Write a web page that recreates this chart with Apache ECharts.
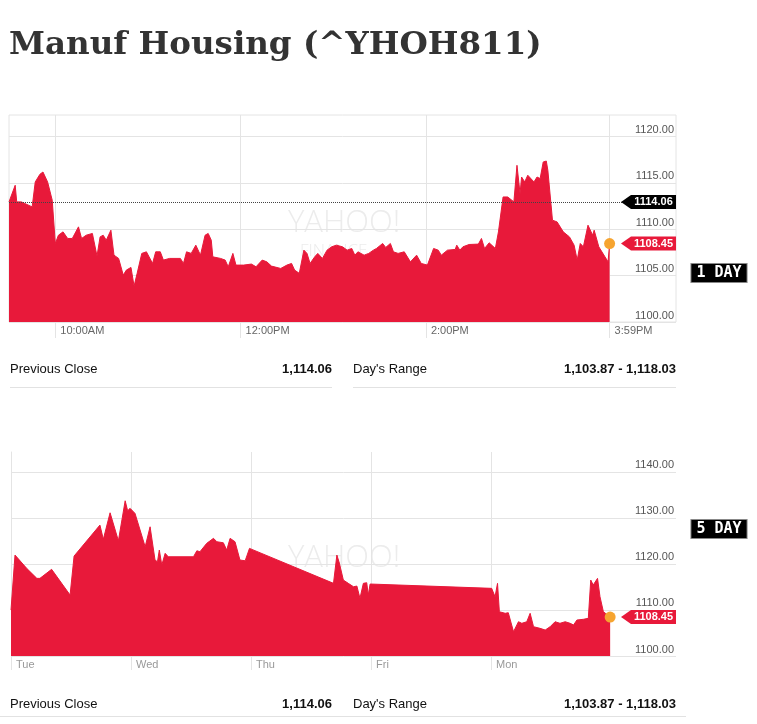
<!DOCTYPE html>
<html><head><meta charset="utf-8">
<script src="https://cdn.jsdelivr.net/npm/echarts@6/dist/echarts.min.js"></script>
<style>html,body{margin:0;padding:0;background:#fff}#c{width:757px;height:724px}</style>
</head><body><div id="c"></div>
<script>
const titleText = 'Manuf Housing (^YHOH811)';

// 1-day chart: minutes after 9:30 open, index level
const times1D = [0,4,5,8,15,17,20,22,25,28,30,32,35,38,41,45,47,50,54,57,59,61,63,66,68,71,74,76,79,81,83,86,89,93,95,98,100,104,111,113,115,118,121,123,124,127,129,131,132,137,140,142,145,147,152,157,160,164,167,170,176,180,183,185,188,191,193,195,198,200,203,206,209,212,216,219,222,224,226,230,233,236,238,242,244,247,249,252,256,260,264,267,271,275,278,280,284,289,290,292,294,298,304,306,308,311,315,317,320,323,327,329,331,332,334,336,340,342,344,346,348,349,352,355,359,363,366,368,370,372,375,378,379,382,386,388,389];
const close1D = [1112.94,1114.73,1112.94,1112.94,1112.40,1115.09,1115.91,1116.16,1115.09,1113.12,1108.46,1109.35,1109.71,1109.00,1109.00,1110.25,1109.00,1109.35,1109.54,1107.10,1109.17,1109.35,1108.82,1109.89,1107.20,1106.85,1105.05,1105.59,1105.88,1103.87,1105.24,1107.39,1107.56,1106.31,1107.56,1107.56,1106.67,1106.85,1106.85,1106.31,1107.56,1107.39,1108.28,1107.56,1107.20,1109.35,1109.54,1108.82,1107.02,1106.85,1106.67,1105.95,1107.39,1106.13,1106.13,1106.24,1105.95,1106.67,1106.48,1106.02,1105.77,1106.13,1106.31,1105.59,1105.24,1107.74,1107.39,1106.31,1107.02,1107.39,1106.85,1107.74,1108.10,1108.28,1108.10,1107.74,1107.92,1107.20,1107.56,1107.20,1107.39,1107.74,1107.92,1108.46,1108.03,1108.46,1107.56,1107.39,1107.56,1106.48,1107.20,1106.31,1106.13,1107.92,1107.74,1107.20,1107.74,1107.82,1108.28,1107.74,1108.10,1108.35,1108.39,1109.00,1107.92,1108.53,1107.92,1109.71,1113.47,1113.47,1112.94,1116.88,1113.84,1115.62,1115.09,1115.81,1115.09,1115.62,1115.45,1117.24,1117.34,1116.34,1110.97,1110.78,1109.71,1109.17,1108.28,1106.67,1108.46,1108.10,1110.43,1109.35,1109.89,1108.10,1107.02,1106.48,1108.45];
const ticks1D = [30,150,270,389];
const tickLabels1D = ['10:00AM','12:00PM','2:00PM','3:59PM'];
const yTicks1D = [1100,1105,1110,1115,1120];

// 5-day chart: trading minutes after Tuesday open, index level
const times5D = [0,13,51,84,94,132,192,205,289,300,322,349,371,379,387,403,436,452,468,476,482,490,501,511,593,604,614,636,658,669,690,701,712,728,744,761,775,1048,1059,1067,1080,1096,1113,1124,1134,1145,1156,1161,1167,1562,1573,1581,1587,1606,1616,1633,1649,1660,1676,1687,1698,1719,1736,1752,1768,1784,1801,1817,1828,1839,1860,1876,1884,1892,1906,1914,1925,1947];
const close5D = [1109.98,1121.92,1119.03,1116.86,1116.86,1118.82,1113.24,1121.70,1128.43,1125.33,1131.10,1125.02,1133.71,1131.54,1132.06,1130.97,1123.72,1128.06,1120.84,1120.47,1123.01,1119.75,1122.29,1121.55,1121.55,1122.85,1122.64,1124.46,1125.55,1124.81,1124.59,1123.01,1125.55,1124.81,1120.84,1120.68,1123.37,1115.78,1121.92,1120.18,1116.49,1115.78,1115.04,1115.19,1112.52,1115.78,1115.91,1113.24,1115.63,1114.69,1112.87,1115.78,1109.61,1109.27,1109.40,1105.27,1107.44,1107.10,1107.44,1109.27,1106.36,1106.01,1105.64,1106.36,1107.44,1107.10,1107.44,1107.10,1106.73,1107.81,1107.97,1108.18,1116.49,1115.41,1116.86,1112.87,1109.61,1108.45];
const ticks5D = [0,390,780,1170,1560];
const tickLabels5D = ['Tue','Wed','Thu','Fri','Mon'];
const yTicks5D = [1100,1110,1120,1130,1140];

const lastPrice = 1108.45;
const prevClose = 1114.06;
const prevCloseLevel1D = 1112.94; // height of the dotted reference line as drawn
const statLabels = ['Previous Close', "Day's Range"];
const statValues = ['1,114.06', '1,103.87 - 1,118.03'];
const rangeLabels = ['1 DAY', '5 DAY'];

const RED = '#e8193a';
const GRID = '#e4e4e4';
const FONT = '"Liberation Sans", Arial, sans-serif';
const X1MAX = 432, X5MAX = 2161;

const pairs = (xs, ys) => xs.map((x, i) => [x, ys[i]]);

function xAxisCfg(idx, max, ticks, labels, color, tickLen) {
  return {
    type: 'value', gridIndex: idx, min: 0, max: max,
    axisLine: { show: false },
    axisTick: { show: true, customValues: ticks, length: tickLen, lineStyle: { color: GRID } },
    splitLine: { show: true, lineStyle: { color: GRID } },
    axisLabel: {
      customValues: ticks, align: 'left', margin: 3, padding: [0, 0, 0, 5],
      fontFamily: FONT, fontSize: 11, color: color,
      formatter: v => labels[ticks.indexOf(v)]
    }
  };
}
function yAxisCfg(idx, min, max, ticks, showLine) {
  return {
    type: 'value', gridIndex: idx, position: 'right', min: min, max: max,
    axisLine: { show: showLine, lineStyle: { color: GRID } },
    axisTick: { show: false, customValues: ticks },
    splitLine: { show: true, lineStyle: { color: GRID } },
    axisLabel: {
      customValues: ticks, inside: true, margin: 2, verticalAlign: 'bottom',
      fontFamily: FONT, fontSize: 11, color: '#555', padding: [0, 0, 1, 0],
      formatter: v => v.toFixed(2)
    }
  };
}
const tagPath = 'path://M0,7L10,0L55,0L55,14L10,14Z';
function tag(xi, x, y, text, color) {
  return {
    type: 'scatter', xAxisIndex: xi, yAxisIndex: xi, z: 6, silent: true,
    symbol: tagPath, symbolSize: [55, 14], symbolOffset: [-27.5, 0],
    itemStyle: { color: color, opacity: 1 },
    label: { show: true, position: 'inside', offset: [5, 0], formatter: text,
      color: '#fff', fontWeight: 'bold', fontSize: 11, fontFamily: FONT },
    data: [[x, y]]
  };
}
function dot(xi, x, y) {
  return {
    type: 'scatter', xAxisIndex: xi, yAxisIndex: xi, z: 7, silent: true,
    symbol: 'circle', symbolSize: 11, itemStyle: { color: '#f6a430', opacity: 1 },
    data: [[x, y]]
  };
}

const chart = echarts.init(document.getElementById('c'), null, { renderer: 'canvas' });
chart.setOption({
  animation: false,
  backgroundColor: '#fff',
  title: {
    text: titleText, left: 4, top: 24,
    textStyle: { fontFamily: '"DejaVu Serif", Georgia, serif', fontWeight: 'bold', fontSize: 32.5, color: '#333' }
  },
  grid: [
    { left: 9, top: 115, width: 667, height: 207, show: true, borderColor: GRID, borderWidth: 1, backgroundColor: 'transparent' },
    { left: 11, top: 452, width: 665, height: 204 }
  ],
  xAxis: [
    xAxisCfg(0, X1MAX, ticks1D, tickLabels1D, '#666', 16),
    xAxisCfg(1, X5MAX, ticks5D, tickLabels5D, '#999', 14)
  ],
  yAxis: [
    yAxisCfg(0, 1100, 1122.3, yTicks1D, false),
    yAxisCfg(1, 1100, 1144.3, yTicks5D, true)
  ],
  graphic: [
    { type: 'text', x: 288, y: 208, z: 0, silent: true, style: { text: 'YAHOO!', font: '300 31px "Open Sans", sans-serif', fill: '#ececec' } },
    { type: 'text', x: 300, y: 243, z: 0, silent: true, style: { text: 'FINANCE', font: '300 17px "Open Sans", sans-serif', fill: '#ececec' } },
    { type: 'text', x: 288, y: 543, z: 0, silent: true, style: { text: 'YAHOO!', font: '300 31px "Open Sans", sans-serif', fill: '#ececec' } },
    // stats row 1
    { type: 'text', x: 10, y: 369, style: { text: statLabels[0], font: '13px ' + FONT, fill: '#111', verticalAlign: 'middle' } },
    { type: 'text', x: 332, y: 369, style: { text: statValues[0], font: 'bold 13px ' + FONT, fill: '#111', align: 'right', verticalAlign: 'middle' } },
    { type: 'text', x: 353, y: 369, style: { text: statLabels[1], font: '13px ' + FONT, fill: '#111', verticalAlign: 'middle' } },
    { type: 'text', x: 676, y: 369, style: { text: statValues[1], font: 'bold 13px ' + FONT, fill: '#111', align: 'right', verticalAlign: 'middle' } },
    { type: 'line', shape: { x1: 10, y1: 387.5, x2: 332, y2: 387.5 }, style: { stroke: '#e2e2e2', lineWidth: 1 } },
    { type: 'line', shape: { x1: 353, y1: 387.5, x2: 676, y2: 387.5 }, style: { stroke: '#e2e2e2', lineWidth: 1 } },
    // stats row 2
    { type: 'text', x: 10, y: 704, style: { text: statLabels[0], font: '13px ' + FONT, fill: '#111', verticalAlign: 'middle' } },
    { type: 'text', x: 332, y: 704, style: { text: statValues[0], font: 'bold 13px ' + FONT, fill: '#111', align: 'right', verticalAlign: 'middle' } },
    { type: 'text', x: 353, y: 704, style: { text: statLabels[1], font: '13px ' + FONT, fill: '#111', verticalAlign: 'middle' } },
    { type: 'text', x: 676, y: 704, style: { text: statValues[1], font: 'bold 13px ' + FONT, fill: '#111', align: 'right', verticalAlign: 'middle' } },
    { type: 'line', shape: { x1: 0, y1: 716.5, x2: 686, y2: 716.5 }, style: { stroke: '#e2e2e2', lineWidth: 1 } },
    // range badges
    { type: 'text', x: 719, y: 273, style: { text: rangeLabels[0], font: 'bold 15px "DejaVu Sans Mono", monospace', fill: '#fff', align: 'center', verticalAlign: 'middle', backgroundColor: '#000', padding: [2, 5, 1, 5], borderColor: '#888', borderWidth: 1 } },
    { type: 'text', x: 719, y: 529, style: { text: rangeLabels[1], font: 'bold 15px "DejaVu Sans Mono", monospace', fill: '#fff', align: 'center', verticalAlign: 'middle', backgroundColor: '#000', padding: [2, 5, 1, 5], borderColor: '#888', borderWidth: 1 } }
  ],
  series: [
    {
      type: 'line', xAxisIndex: 0, yAxisIndex: 0, z: 2, showSymbol: false, silent: true,
      data: pairs(times1D, close1D),
      lineStyle: { color: RED, width: 1 },
      areaStyle: { color: RED, opacity: 1, origin: 'start' },
      markLine: {
        silent: true, symbol: ['none', 'none'], label: { show: false },
        lineStyle: { color: '#444', type: 'dotted', width: 1 },
        data: [{ yAxis: prevCloseLevel1D }]
      }
    },
    tag(0, X1MAX, prevCloseLevel1D, prevClose.toFixed(2), '#000'),
    tag(0, X1MAX, lastPrice, lastPrice.toFixed(2), RED),
    dot(0, times1D[times1D.length - 1], lastPrice),
    {
      type: 'line', xAxisIndex: 1, yAxisIndex: 1, z: 2, showSymbol: false, silent: true,
      data: pairs(times5D, close5D),
      lineStyle: { color: RED, width: 1 },
      areaStyle: { color: RED, opacity: 1, origin: 'start' }
    },
    tag(1, X5MAX, lastPrice, lastPrice.toFixed(2), RED),
    dot(1, times5D[times5D.length - 1], lastPrice)
  ]
});
</script>
</body></html>
